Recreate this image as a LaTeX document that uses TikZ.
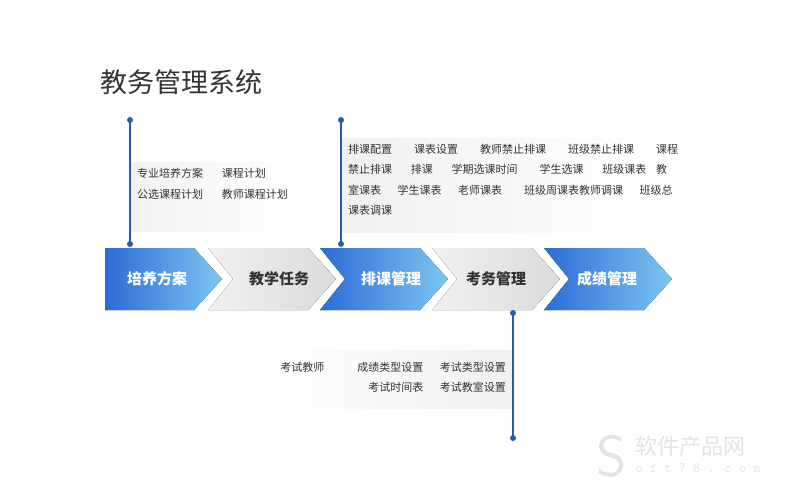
\documentclass[tikz,border=0pt]{standalone}
\usepackage{fontspec}
\setmainfont{Noto Sans CJK SC}
\definecolor{dblue}{HTML}{2A6CD6}
\definecolor{lblue}{HTML}{86D0F5}
\definecolor{lineb}{HTML}{2B5AA6}
\definecolor{txt}{HTML}{333333}
\tikzset{
 bluech/.style={left color=dblue,right color=lblue!90!dblue,draw=none},
 graych/.style={left color=gray!12,right color=gray!28,draw=none},
 chlabel/.style={font=\fontsize{15}{15}\selectfont\bfseries},
 small/.style={font=\fontsize{11}{20.5}\selectfont,text=txt,align=left,inner sep=0pt},
 dot/.style={circle,fill=lineb,inner sep=0pt,minimum size=6pt},
 tl/.style={draw=lineb,line width=1.5pt},
}
\begin{document}
\begin{tikzpicture}[x=1pt,y=-1pt]
\useasboundingbox (0,0) rectangle (792,500);
\node[anchor=west,font=\fontsize{27}{27}\selectfont,text=txt,inner sep=0pt] (title) at (100,82) {教务管理系统};
% gray panels
\fill[left color=gray!10,right color=white] (130,162) rectangle (300,231);
\fill[left color=gray!12,right color=white] (341,139) rectangle (640,232);
\fill[left color=white,right color=gray!12] (268,350) rectangle (513,408);
% chevrons
\def\T{248}\def\B{310}\def\M{279}
\fill[bluech] (105,\T) -- (194,\T) -- (222,\M) -- (194,\B) -- (105,\B) -- cycle;
\foreach \L/\s in {208/graych,320/bluech,432/graych,544/bluech}{
 \fill[\s] (\L,\T) -- (\L+100,\T) -- (\L+128,\M) -- (\L+100,\B) -- (\L,\B) -- (\L+25,\M) -- cycle;
}
\node[chlabel,text=white] (c1) at (157,\M) {培养方案};
\node[chlabel,text=txt] (c2) at (279,\M) {教学任务};
\node[chlabel,text=white] (c3) at (391,\M) {排课管理};
\node[chlabel,text=txt] (c4) at (496,\M) {考务管理};
\node[chlabel,text=white] (c5) at (607,\M) {成绩管理};
% timelines
\node[dot] (a1) at (130,120) {}; \node[dot] (a2) at (130,244) {};
\node[dot] (b1) at (341,120) {}; \node[dot] (b2) at (341,244) {};
\node[dot] (d1) at (513,313) {}; \node[dot] (d2) at (513,438) {};
\draw[tl] (a1.center) -- (a2.center);
\draw[tl] (b1.center) -- (b2.center);
\draw[tl] (d1.center) -- (d2.center);
% texts
\node[small,anchor=north west] (t1) at (137,168) {专业培养方案\hspace{1.7em}课程计划\\公选课程计划\hspace{1.7em}教师课程计划};
\node[small,anchor=north west] (t2) at (348,144) {排课配置\hspace{2em}课表设置\hspace{2em}教师禁止排课\hspace{2em}班级禁止排课\hspace{2em}课程\\禁止排课\hspace{1.7em}排课\hspace{1.7em}学期选课时间\hspace{2em}学生选课\hspace{1.7em}班级课表\hspace{0.9em}教\\室课表\hspace{1.5em}学生课表\hspace{1.5em}老师课表\hspace{2em}班级周课表教师调课\hspace{1.5em}班级总\\课表调课};
\node[small,anchor=north east,align=right] (t3) at (506,362) {考试教师\hspace{3em}成绩类型设置\hspace{1.5em}考试类型设置\\考试时间表\hspace{1.5em}考试教室设置};
% watermark
\node[text=gray!22,font=\fontsize{58}{58}\selectfont\sffamily] (ws) at (612,456) {S};
\node[text=gray!22,font=\fontsize{22}{22}\selectfont,anchor=west] (wt) at (632,446) {软件产品网};
\node[text=gray!22,font=\fontsize{14}{14}\selectfont\ttfamily,anchor=west] (wu) at (632,468) {o f t 7 8 . c o m};
\end{tikzpicture}
\end{document}
